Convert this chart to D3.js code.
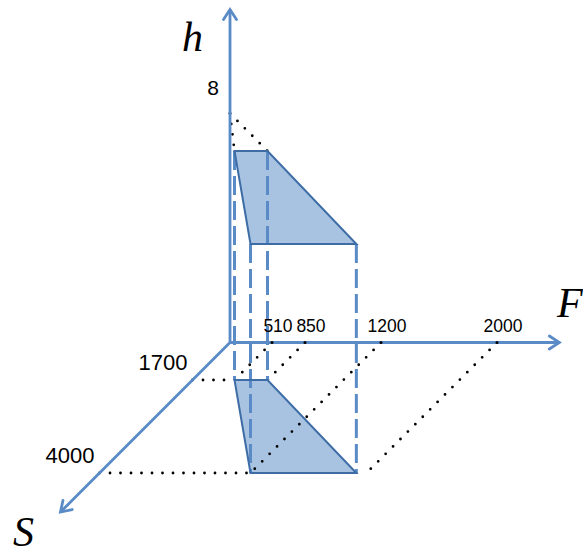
<!DOCTYPE html>
<html><head><meta charset="utf-8">
<script src="https://cdn.jsdelivr.net/npm/d3@7"></script>
<style>html,body{margin:0;padding:0;background:#fff;}svg{display:block;}</style>
</head><body>
<svg id="c" width="583" height="555"></svg>
<script>
// ---- data ----
const fTicks = [510, 850, 1200, 2000];
const sTicks = [1700, 4000];
const hTicks = [8];
const axisNames = ["F", "S", "h"];
const axisEnds = [2430, 4965, 11.63];          // F, S, h values at arrow tips
// region corners (F, S) in the S–F plane, lifted to h = 8
const regionF = [510, 850, 1930, 1200];
const regionS = [1700, 1700, 4000, 4000];
const regionH = 8;

// ---- scales (schematic, piecewise) ----
const fX = d3.scaleLinear().domain([0, 510, 850, 1200, 2000]).range([230, 272, 305, 381, 497]);
const sOff = d3.scaleLinear().domain([0, 1700, 4000]).range([0, 37.5, 130.5]);
const hY = d3.scaleLinear().domain([0, 8]).range([0, 229]);
const y0 = 342.5;
const P = (F, S, h) => [fX(F) - sOff(S), y0 + sOff(S) - hY(h)];

const svg = d3.select("#c");
const blue = "#5B8BC6", dark = "#3E6DA6", fill = "#A7C3E1";
const line = d3.line();

const corners = regionF.map((f, i) => ({F: f, S: regionS[i]}));
const lower = corners.map(c => P(c.F, c.S, 0));
const upper = corners.map(c => P(c.F, c.S, regionH));

// fills
[lower, upper].forEach(pts => {
  svg.append("path").attr("d", line(pts) + "Z").attr("fill", fill).attr("stroke", "none");
});

// dotted guide lines
const dotted = [
  [[0, 0, regionH], [510, 1700, regionH]],
  [[0, 0, regionH], [850, 1700, regionH]],
  [[510, 0, 0], [510, 1700, 0]],
  [[850, 0, 0], [850, 1700, 0]],
  [[1200, 0, 0], [1200, 4000, 0]],
  [[2000, 0, 0], [2000, 4000, 0]],
  [[0, 1700, 0], [510, 1700, 0]],
  [[0, 4000, 0], [1200, 4000, 0]]
];
svg.selectAll("path.dot").data(dotted).join("path").attr("class", "dot")
  .attr("d", d => line(d.map(p => P(...p))))
  .attr("fill", "none").attr("stroke", "#000").attr("stroke-width", 2.8)
  .attr("stroke-linecap", "round").attr("stroke-dasharray", "0,10.5");

// dashed verticals
svg.selectAll("path.dash").data(corners).join("path").attr("class", "dash")
  .attr("d", c => line([P(c.F, c.S, regionH), P(c.F, c.S, 0)]))
  .attr("fill", "none").attr("stroke", blue).attr("stroke-width", 3)
  .attr("stroke-dasharray", "19,6");

// outlines
[lower, upper].forEach(pts => {
  svg.append("path").attr("d", line(pts) + "Z").attr("fill", "none")
    .attr("stroke", dark).attr("stroke-width", 2).attr("stroke-linejoin", "miter");
});

// axes
const origin = P(0, 0, 0);
const tips = [P(axisEnds[0], 0, 0), P(0, axisEnds[1], 0), P(0, 0, axisEnds[2])];
tips.forEach(t => {
  svg.append("path").attr("d", line([origin, t])).attr("stroke", blue)
    .attr("stroke-width", 2.8).attr("fill", "none");
  const ang = Math.atan2(t[1] - origin[1], t[0] - origin[0]);
  const L = 10, W = 6.5;
  const bx = t[0] - L * Math.cos(ang), by = t[1] - L * Math.sin(ang);
  const nx = -Math.sin(ang) * W, ny = Math.cos(ang) * W;
  svg.append("path").attr("d", line([[bx + nx, by + ny], t, [bx - nx, by - ny]]))
    .attr("stroke", blue).attr("stroke-width", 2.8).attr("fill", "none")
    .attr("stroke-linejoin", "miter").attr("stroke-linecap", "round");
});

// tick dots on F axis
svg.selectAll("circle.ft").data(fTicks).join("circle").attr("class", "ft")
  .attr("cx", d => fX(d)).attr("cy", y0).attr("r", 1.5).attr("fill", "#000");

// tick labels
svg.selectAll("text.ft").data(fTicks).join("text").attr("class", "ft")
  .attr("x", d => fX(d) + 6).attr("y", y0 - 10.5).attr("text-anchor", "middle")
  .attr("font-family", "Liberation Sans, Arial, sans-serif").attr("font-size", 17.5)
  .text(d => d);
svg.selectAll("text.st").data(sTicks).join("text").attr("class", "st")
  .attr("x", d => P(0, d, 0)[0] - 5).attr("y", d => P(0, d, 0)[1] - 10)
  .attr("text-anchor", "end")
  .attr("font-family", "Liberation Sans, Arial, sans-serif").attr("font-size", 22)
  .text(d => d);
svg.selectAll("text.ht").data(hTicks).join("text").attr("class", "ht")
  .attr("x", d => P(0, 0, d)[0] - 11).attr("y", d => P(0, 0, d)[1] - 19)
  .attr("text-anchor", "end")
  .attr("font-family", "Liberation Sans, Arial, sans-serif").attr("font-size", 21)
  .text(d => d);

// axis names
const namePos = [[557, 317], [13, 546], [182, 51]];
axisNames.forEach((n, i) => {
  svg.append("text").attr("x", namePos[i][0]).attr("y", namePos[i][1])
    .attr("font-family", "Liberation Serif, Times New Roman, serif")
    .attr("font-style", "italic").attr("font-size", 42).text(n);
});
</script>
</body></html>
